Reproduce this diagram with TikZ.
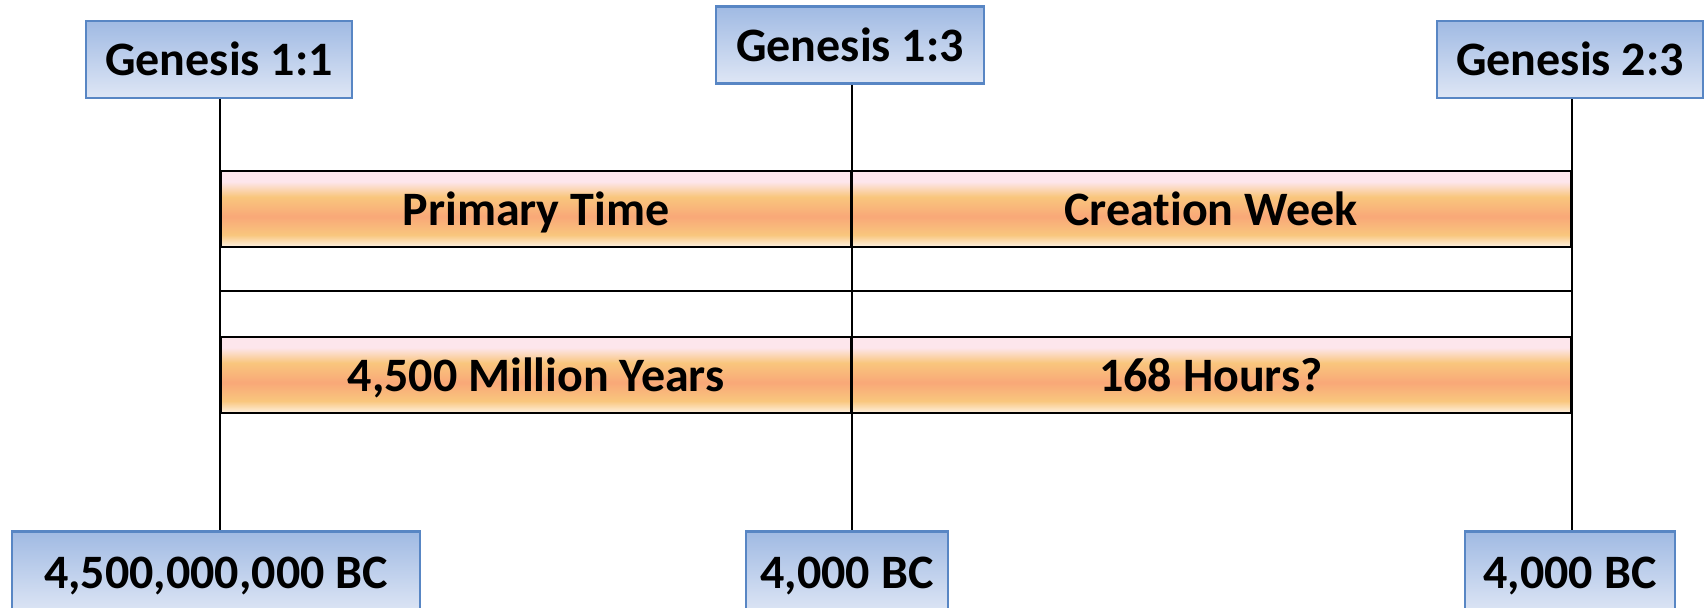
\documentclass[tikz,border=0pt]{standalone}
\usepackage{fontspec}
\setmainfont{Carlito}[Ligatures=NoCommon]
\usetikzlibrary{positioning}

\definecolor{boxtop}{RGB}{160,186,227}
\definecolor{boxbot}{RGB}{222,230,245}
\definecolor{boxline}{RGB}{88,134,196}
\definecolor{bandpink}{RGB}{253,230,236}
\definecolor{bandgold}{RGB}{249,198,125}
\definecolor{bandsalmon}{RGB}{249,168,120}
\definecolor{bandlight}{RGB}{253,236,214}

%% bottom of the band at 25bp, top at 75bp
\pgfdeclareverticalshading{bandshade}{100bp}{
  color(0bp)=(bandlight); color(26bp)=(bandlight); color(33bp)=(bandgold);
  color(45bp)=(bandsalmon); color(58bp)=(bandgold); color(68bp)=(bandpink);
  color(100bp)=(bandpink)}

\tikzset{
  refbox/.style={draw=boxline, line width=1.4pt, top color=boxtop, bottom color=boxbot,
    minimum height=38.5pt, inner sep=0pt, text height=19pt, text depth=3pt,
    font=\fontsize{24}{28}\selectfont\bfseries},
  band/.style={draw=black, line width=1pt, shading=bandshade,
    minimum height=38pt, inner sep=0pt, text height=19pt, text depth=3pt,
    font=\fontsize{24}{28}\selectfont\bfseries},
  link/.style={draw=black, line width=1pt}
}

\begin{document}
\begin{tikzpicture}[x=0.5pt,y=-0.5pt]
  \useasboundingbox (0,0) rectangle (1708,607);

  %% verse boxes along the top
  \node[refbox, minimum width=133pt] (g11) at (219,59.5) {Genesis 1:1};
  \node[refbox, minimum width=134pt] (g13) at (850,45) {Genesis 1:3};
  \node[refbox, minimum width=133pt] (g23) at (1570,59.5) {Genesis 2:3};

  %% dates along the bottom (cut by the page edge)
  \node[refbox, minimum width=204pt, minimum height=41pt, anchor=north] (d1) at (216,530) {4,500,000,000 BC};
  \node[refbox, minimum width=101pt, minimum height=41pt, anchor=north] (d2) at (847,530) {4,000 BC};
  \node[refbox, minimum width=105pt, minimum height=41pt, anchor=north] (d3) at (1570,530) {4,000 BC};

  %% the two shaded rows
  \node[band, minimum width=315pt] (primary) at (536,209) {Primary Time};
  \node[band, minimum width=360pt] (week) at (1211,209) {Creation Week};
  \node[band, minimum width=315pt] (million) at (536,375) {4,500 Million Years};
  \node[band, minimum width=360pt] (hours) at (1211,375) {168 Hours?};

  %% plain rule between the rows
  \coordinate (rl) at (221,291);
  \coordinate (rr) at (1571,291);
  \draw[link] (rl) -- (rr);

  %% uprights from verse to date
  \draw[link] (g11.south -| primary.west) -- (d1.north -| primary.west);
  \draw[link] (g13.south -| primary.east) -- (d2.north -| primary.east);
  \draw[link] (g23.south -| week.east) -- (d3.north -| week.east);
\end{tikzpicture}
\end{document}
